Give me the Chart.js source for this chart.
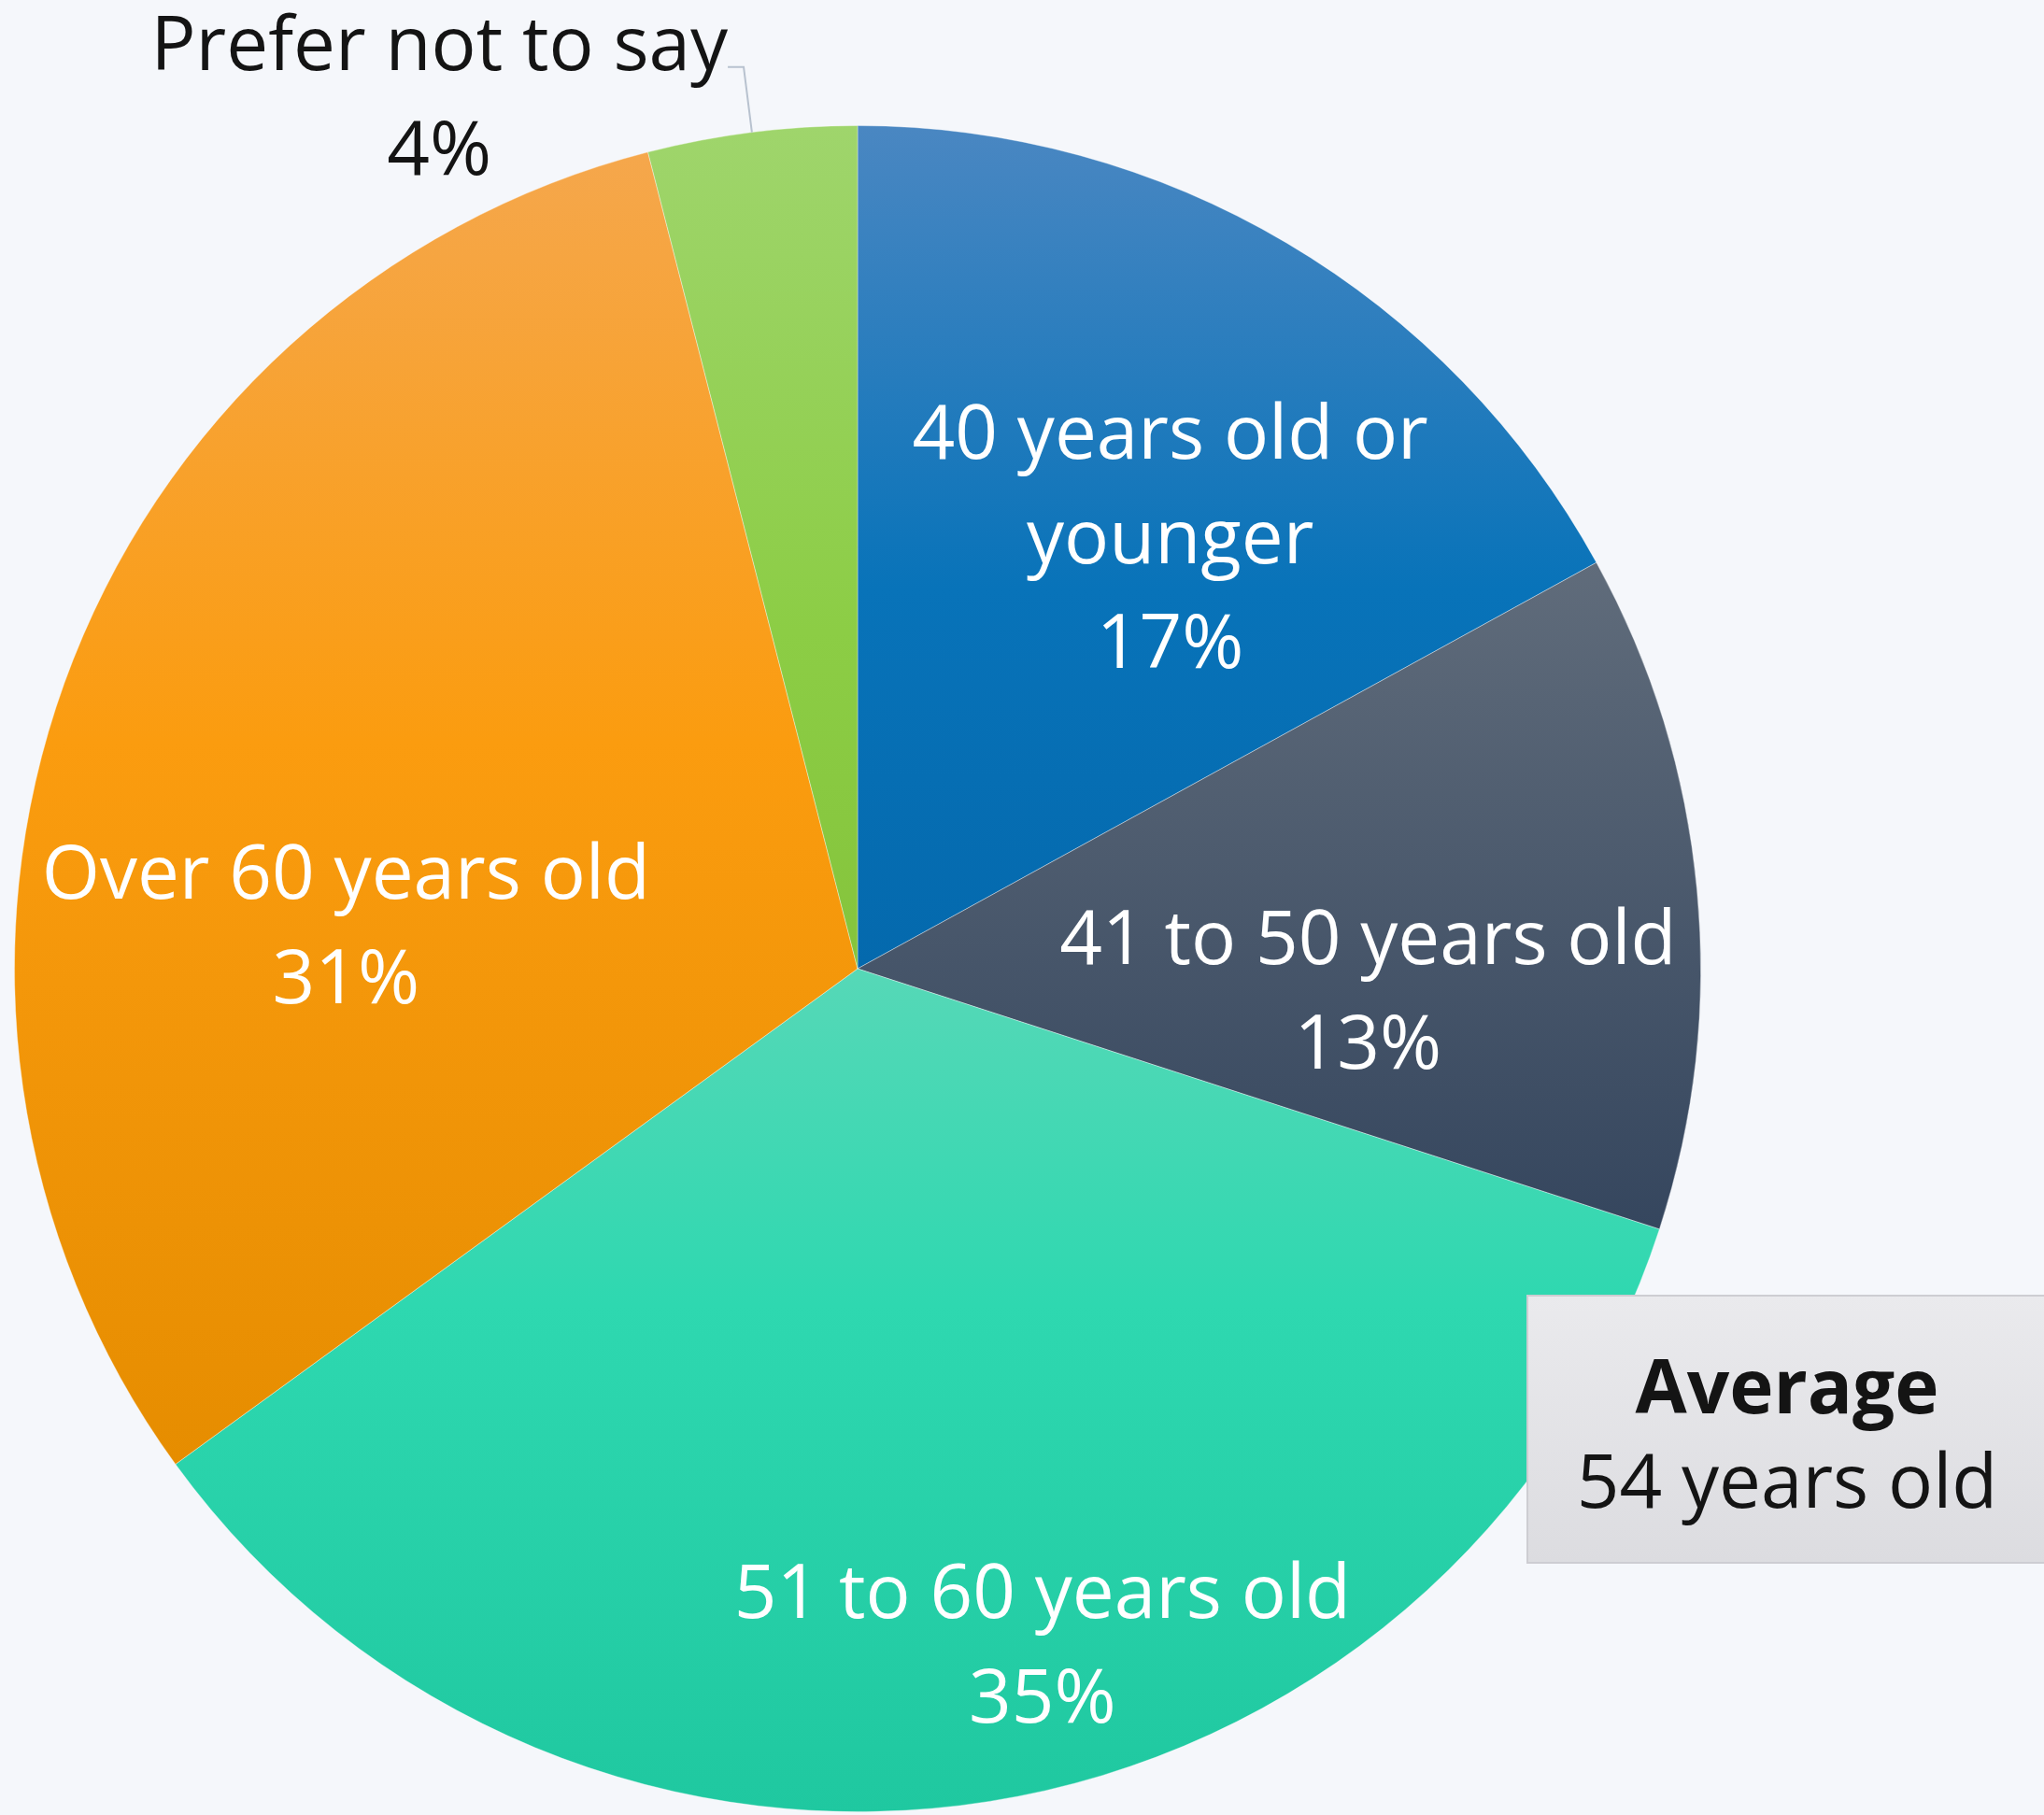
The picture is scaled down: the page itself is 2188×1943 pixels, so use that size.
<!DOCTYPE html>
<html>
<head>
<meta charset="utf-8">
<script src="https://cdn.jsdelivr.net/npm/chart.js@4/dist/chart.umd.min.js"></script>
<style>
  html, body { margin: 0; padding: 0; background: #f5f7fb; }
  #wrap { width: 2188px; height: 1943px; }
</style>
</head>
<body>
<div id="wrap"><canvas id="myChart" width="2188" height="1943"></canvas></div>
<script>
// datos
const categorias = [
  ["40 years old or", "younger"],
  ["41 to 50 years old"],
  ["51 to 60 years old"],
  ["Over 60 years old"],
  ["Prefer not to say"]
];
const porcentajes = [17, 13, 35, 31, 4];
const promedioTitulo = "Average";
const promedioTexto = "54 years old";

// colores (arriba -> abajo de cada porción)
const degradados = [
  [[0, "#4a87c2"], [0.55, "#0873b9"], [1, "#0469ad"]],
  [[0, "#606c7b"], [1, "#35465e"]],
  [[0, "#56d8b7"], [0.4, "#2ed8b0"], [1, "#1fc8a0"]],
  [[0, "#f5a74c"], [0.45, "#fb9c0f"], [1, "#e68d00"]],
  [[0, "#9fd56c"], [0.6, "#8ccd45"], [1, "#85c43c"]]
];
// posición de etiquetas: fracción del ángulo dentro de la porción y fracción del radio
const etiquetaAng = [0.587, 0.667, 0.45, 0.366, 0.5];
const etiquetaRad = [0.632, 0.606, 0.831, 0.609, -1];

const FUENTE = "'Open Sans', 'Noto Sans', sans-serif";
const TAM = 80;
const INTERLINEA = 112;

// degradado vertical sobre el rectángulo de cada porción
function colorPorcion(ctx) {
  const chart = ctx.chart;
  const i = ctx.dataIndex;
  const area = chart.chartArea;
  if (!area || i === undefined) return degradados[0][0][1];
  const cx = (area.left + area.right) / 2;
  const cy = (area.top + area.bottom) / 2;
  const r = Math.min(area.right - area.left, area.bottom - area.top) / 2;
  const total = porcentajes.reduce((a, b) => a + b, 0);
  let ini = 0;
  for (let k = 0; k < i; k++) ini += porcentajes[k];
  const a0 = -Math.PI / 2 + ini / total * Math.PI * 2;
  const a1 = a0 + porcentajes[i] / total * Math.PI * 2;
  let ys = [cy, cy + r * Math.sin(a0), cy + r * Math.sin(a1)];
  [-Math.PI / 2, Math.PI / 2, Math.PI * 1.5].forEach(a => {
    if (a >= a0 && a <= a1) ys.push(cy + r * Math.sin(a));
  });
  const y0 = Math.min(...ys), y1 = Math.max(...ys);
  const g = chart.ctx.createLinearGradient(0, y0, 0, y1);
  degradados[i].forEach(([p, c]) => g.addColorStop(p, c));
  return g;
}

// etiquetas dentro / fuera de las porciones + cuadro del promedio
const etiquetas = {
  id: "etiquetas",
  afterDatasetsDraw(chart) {
    const c = chart.ctx;
    const meta = chart.getDatasetMeta(0);
    c.save();
    c.font = `${TAM}px ${FUENTE}`;
    c.textAlign = "center";
    c.textBaseline = "middle";
    meta.data.forEach((arc, i) => {
      const p = arc.getProps(["x", "y", "startAngle", "endAngle", "outerRadius"], true);
      const lineas = [...categorias[i], porcentajes[i] + "%"];
      const ang = p.startAngle + (p.endAngle - p.startAngle) * etiquetaAng[i];
      if (etiquetaRad[i] > 0) {
        const rr = p.outerRadius * etiquetaRad[i];
        const x = p.x + Math.cos(ang) * rr;
        const y = p.y + Math.sin(ang) * rr + 5;
        c.fillStyle = "#ffffff";
        const y0 = y - (lineas.length - 1) * INTERLINEA / 2;
        lineas.forEach((t, k) => c.fillText(t, x, y0 + k * INTERLINEA));
      } else {
        // etiqueta exterior con línea guía
        const xe = p.x + Math.cos(ang) * p.outerRadius;
        const ye = p.y + Math.sin(ang) * p.outerRadius;
        const xc = p.x + Math.cos(ang) * p.outerRadius * 1.078;
        const yc = p.y + Math.sin(ang) * p.outerRadius * 1.078;
        c.strokeStyle = "#b8c2cf";
        c.lineWidth = 2;
        c.beginPath();
        c.moveTo(xe, ye);
        c.lineTo(xc, yc);
        c.lineTo(xc - 17, yc);
        c.stroke();
        const w = Math.max(...lineas.map(t => c.measureText(t).width));
        const xt = xc - 17 - w / 2;
        const yt = yc - 20;
        c.fillStyle = "#141414";
        lineas.forEach((t, k) => c.fillText(t, xt, yt + k * INTERLINEA));
      }
    });

    // cuadro "Average"
    const bx = chart.width - 553, by = 1387, bw = 560, bh = 286;
    const g = c.createLinearGradient(0, by, 0, by + bh);
    g.addColorStop(0, "#eaeaed");
    g.addColorStop(1, "#dcdce0");
    c.fillStyle = g;
    c.fillRect(bx, by, bw, bh);
    c.strokeStyle = "#cdcdd2";
    c.lineWidth = 2;
    c.strokeRect(bx, by, bw, bh);
    const tx = bx + 278;
    c.fillStyle = "#141414";
    c.textBaseline = "alphabetic";
    c.font = `bold ${TAM}px ${FUENTE}`;
    c.fillText(promedioTitulo, tx, 1513);
    c.font = `${TAM}px ${FUENTE}`;
    c.fillText(promedioTexto, tx, 1614);
    c.restore();
  }
};

const chart = new Chart(document.getElementById("myChart").getContext("2d"), {
  type: "pie",
  data: {
    labels: categorias.map(l => l.join(" ")),
    datasets: [{
      data: porcentajes,
      backgroundColor: colorPorcion,
      borderColor: "rgba(255,255,255,0.35)",
      borderWidth: 1
    }]
  },
  options: {
    responsive: false,
    animation: false,
    layout: { padding: { left: 15, top: 134, right: 367, bottom: 3 } },
    plugins: {
      legend: { display: false },
      tooltip: { enabled: false }
    }
  },
  plugins: [etiquetas]
});
</script>
</body>
</html>
